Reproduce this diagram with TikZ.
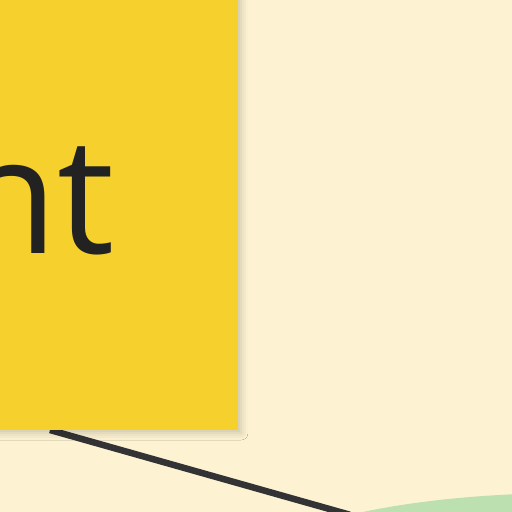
\documentclass[tikz,border=0pt]{standalone}
\usepackage{fontspec}
\setmainfont{Open Sans}
\definecolor{bgcream}{RGB}{253,243,211}
\definecolor{cardyellow}{RGB}{246,208,44}
\definecolor{inkdark}{RGB}{34,34,34}
\definecolor{linkgray}{RGB}{51,51,53}
\definecolor{leafgreen}{RGB}{188,224,176}
\usetikzlibrary{positioning,shapes.geometric,shadows.blur}

\begin{document}
\begin{tikzpicture}[x=1pt,y=-1pt,
  card/.style={rectangle,fill=cardyellow,inner sep=0pt,
    blur shadow={shadow xshift=3pt,shadow yshift=-3pt,shadow blur radius=7pt,shadow opacity=20}},
  bubble/.style={ellipse,fill=leafgreen,inner sep=0pt},
  link/.style={draw=linkgray,line width=6.5pt}]
  \clip (0,0) rectangle (512,512);
  \fill[bgcream] (0,0) rectangle (512,512);
  % shapes
  \node[bubble,minimum width=654pt,minimum height=168pt] (bubble) at (570,577) {};
  \coordinate (tail) at (50,430);
  \draw[link] (tail) -- (bubble);
  \node[card,minimum width=540pt,minimum height=500pt] (card) at (-32,180) {};
  \node[anchor=base east,inner sep=0pt,font=\fontsize{162}{162}\selectfont,text=inkdark] (word) at (115,253) {nt};
\end{tikzpicture}
\end{document}
